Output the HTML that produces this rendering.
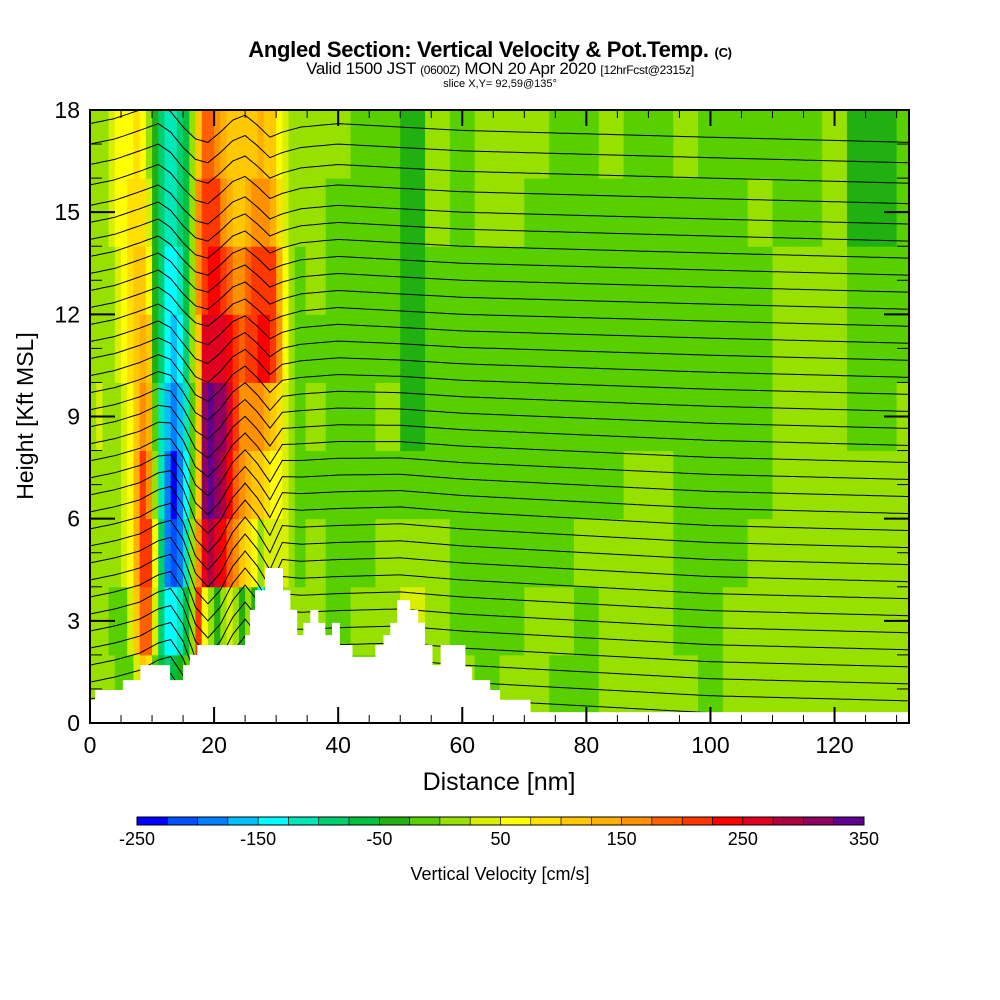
<!DOCTYPE html>
<html><head><meta charset="utf-8"><style>
body{margin:0;background:#fff;}
svg{display:block;font-family:"Liberation Sans",Arial,sans-serif;}
</style></head><body>
<svg id="chart" width="1000" height="1000" viewBox="0 0 1000 1000" xmlns="http://www.w3.org/2000/svg">
<defs>
<clipPath id="plotClip"><rect x="90" y="110" width="819" height="613"/></clipPath>
</defs>
<text x="490" y="57" text-anchor="middle" font-size="22" font-weight="bold" letter-spacing="-0.3">Angled Section: Vertical Velocity &amp; Pot.Temp. <tspan font-size="13">(C)</tspan></text>
<text x="500" y="74" text-anchor="middle" font-size="17" letter-spacing="-0.3">Valid 1500 JST <tspan font-size="12">(0600Z)</tspan> MON 20 Apr 2020 <tspan font-size="12">[12hrFcst@2315z]</tspan></text>
<text x="500" y="87" text-anchor="middle" font-size="11">slice X,Y= 92,59@135°</text>
<g id="field" clip-path="url(#plotClip)"><g id="cells"></g><g id="contours"></g><g id="terrain"></g></g>
<rect x="90" y="110" width="819" height="613" fill="none" stroke="#000" stroke-width="2"/>
<g id="ticks"></g>
<text x="499" y="790" text-anchor="middle" font-size="25">Distance [nm]</text>
<text transform="translate(33,416) rotate(-90)" text-anchor="middle" font-size="23">Height [Kft MSL]</text>
<g id="colorbar"></g>
<text x="500" y="880" text-anchor="middle" font-size="18">Vertical Velocity [cm/s]</text>
</svg>
<script>
// ---- data ----
const distNm = [0.5,1.5,2.5,3.5,4.5,5.5,6.5,7.5,8.5,9.5,10.5,11.5,12.5,13.5,14.5,15.5,16.5,17.5,18.5,19.5,20.5,21.5,22.5,23.5,24.5,25.5,26.5,27.5,28.5,29.5,30.5,31.5,32.5,33.5,36,40,44,48,52,56,60,64,68,72,76,80,84,88,92,96,100,104,108,112,116,120,124,128,132];
const heightKft = [1,3,5,7,9,11,13,15,17];
const wColumns = [
[10,10,10,10,10,10,10,10,10],
[10,10,10,10,30,10,10,10,10],
[10,10,10,10,10,10,10,20,20],
[10,-10,10,10,10,10,20,40,40],
[-10,-20,10,10,20,30,40,50,60],
[-20,-10,30,40,40,50,60,70,60],
[-10,30,60,70,70,80,80,80,70],
[40,110,140,130,120,110,100,90,80],
[120,190,210,200,170,140,110,90,60],
[90,180,200,170,140,110,60,30,10],
[-20,40,60,20,-20,-30,-40,-40,-40],
[-60,-90,-100,-120,-110,-100,-90,-100,-100],
[-80,-150,-190,-200,-170,-150,-130,-120,-110],
[-60,-150,-220,-240,-190,-160,-140,-120,-110],
[-40,-120,-180,-200,-160,-140,-120,-100,-90],
[-20,-70,-110,-130,-110,-80,-60,-60,-60],
[10,10,0,-20,-10,10,20,20,0],
[50,200,150,120,100,120,160,150,120],
[-20,60,260,300,300,250,220,200,180],
[-40,0,280,330,330,270,240,210,190],
[-30,-30,270,320,320,270,230,200,170],
[-20,0,240,290,300,260,210,170,140],
[0,40,180,240,260,230,190,140,120],
[10,20,160,190,200,200,170,120,100],
[20,-30,120,150,170,190,170,120,100],
[10,20,90,140,160,200,180,130,110],
[0,-50,60,120,150,220,200,150,120],
[0,-150,20,100,150,240,220,160,130],
[0,-80,40,90,140,240,220,160,120],
[0,-30,40,70,120,220,200,140,100],
[0,10,30,50,80,150,140,90,60],
[10,20,30,30,40,60,60,40,30],
[10,10,10,10,20,10,0,10,10],
[10,0,-10,-10,-10,-10,-10,0,10],
[-10,10,10,-10,10,-10,10,10,10],
[-10,-10,-10,-10,-10,-10,-10,-10,10],
[-10,10,-10,-10,-10,-10,-10,-10,-10],
[-10,20,10,-10,10,-10,-20,-20,-10],
[-10,40,20,-10,-30,-40,-40,-40,-30],
[10,10,10,-10,-10,-10,-10,10,10],
[10,-10,-10,-10,-10,-10,-10,-10,-10],
[-10,-10,-10,-10,-10,-10,-10,10,10],
[10,-10,-10,-10,-10,-10,-10,10,10],
[10,10,-10,-10,-10,-10,-10,-10,10],
[-10,10,-10,-10,-10,-10,-10,-10,-10],
[-10,-10,10,-10,-10,-10,-10,-10,-10],
[10,10,10,-10,-10,-10,-10,-10,10],
[10,10,10,10,-10,-10,-10,-10,-10],
[10,10,10,10,-10,-10,-10,-10,-10],
[10,-10,-10,-10,-10,-10,-10,-10,10],
[-10,-10,-10,-10,-10,-10,-10,-10,-10],
[10,10,-10,-10,-10,-10,-10,-10,-10],
[10,10,10,-10,-10,-10,-10,10,-10],
[10,10,10,10,10,10,10,-10,-10],
[10,10,10,10,10,10,10,-10,-10],
[10,10,10,10,10,10,10,10,10],
[10,10,10,10,-10,-10,-10,-30,-40],
[10,10,10,10,-10,-10,-10,-30,-40],
[10,10,10,10,10,-10,-10,-10,-10]
];
const terrainNm = [0,0.8,5.3,8.1,12.9,15.0,16.1,17.3,25.0,25.8,26.6,28.2,31.1,32.3,33.4,34.4,35.5,36.8,37.9,39.0,40.3,42.3,46.0,47.3,48.4,49.5,51.6,52.9,54.0,55.2,56.5,60.5,61.6,64.5,66.1,71.0];
const terrainKft = [0.68,0.97,1.26,1.7,1.26,1.7,2.0,2.29,2.58,3.32,3.9,4.55,3.9,3.32,2.58,2.94,3.32,2.94,2.58,2.94,2.29,1.94,2.29,2.58,2.94,3.61,3.32,2.94,2.29,1.7,2.29,1.64,1.26,0.97,0.68,0.32];
const isentropeBaseKft = [0.6,1.1,1.6,2.1,2.6,3.1,3.6,4.1,4.6,5.1,5.6,6.1,6.6,7.1,7.6,8.1,8.6,9.1,9.6,10.1,10.6,11.1,11.6,12.1,12.6,13.1,13.6,14.1,14.6,15.1,15.7,16.3,16.9,17.5];
const dispStationsNm = [0,4,8,11,13,15,17,19,21,23,25,27,29,31,34,40,50,60,80,100,132];
const dispUpperKft = [0.1,0.25,0.5,0.7,0.45,0,-0.35,-0.45,-0.15,0.2,0.35,0.05,-0.3,-0.15,0,0.1,0,-0.1,-0.2,-0.3,-0.45];
const dispLowerKft = [0.1,0.25,0.45,0.75,0.85,0.3,-0.7,-1.1,-0.7,0,0.45,0,-0.6,0.2,0.15,0.2,0.25,0.1,-0.1,-0.3,-0.45];
const xTickLabels = [0,20,40,60,80,100,120];
const yTickLabels = [0,3,6,9,12,15,18];
const cbarLabels = [-250,-150,-50,50,150,250,350];
const palette = ["#0000ff","#0050ff","#0080ff","#00c0ff","#00ffff","#00e8b8","#00d070","#00c040","#20b010","#58d000","#98e000","#d8f000","#ffff00","#ffe000","#ffc800","#ffb000","#ff9000","#ff6000","#ff3800","#ff0000","#e00020","#b00040","#900060","#600090"];
// ---- scales ----
const X0=90,X1=909,Y0=723,Y1=110;
const xs = nm => X0 + nm*(X1-X0)/132;
const ys = k => Y0 - k*(Y0-Y1)/18;
const colorOf = v => palette[Math.max(0,Math.min(23,Math.floor((v+250)/25)))];
const NS="http://www.w3.org/2000/svg";
function mk(tag, parent, attrs){const e=document.createElementNS(NS,tag);for(const k in attrs)e.setAttribute(k,attrs[k]);parent.appendChild(e);return e;}
// cells
const cells=document.getElementById('cells');
mk('rect',cells,{x:X0,y:Y1,width:X1-X0,height:Y0-Y1,fill:palette[10]});
for(let c=0;c<distNm.length;c++){
  const left = c===0?0:(distNm[c-1]+distNm[c])/2;
  const right = c===distNm.length-1?134:(distNm[c]+distNm[c+1])/2;
  for(let r=0;r<heightKft.length;r++){
    const bot = r===0?0:(heightKft[r-1]+heightKft[r])/2;
    const top = r===heightKft.length-1?18.5:(heightKft[r]+heightKft[r+1])/2;
    const rc=mk('rect',cells,{x:xs(left),y:ys(top),width:xs(right)-xs(left)+0.5,height:ys(bot)-ys(top)+0.5,fill:colorOf(wColumns[c][r])});
    
    
  }
}
// contours
function interp(arr, nm){
  for(let i=0;i<dispStationsNm.length-1;i++){
    if(nm<=dispStationsNm[i+1]){const t=(nm-dispStationsNm[i])/(dispStationsNm[i+1]-dispStationsNm[i]);return arr[i]+t*(arr[i+1]-arr[i]);}
  }
  return arr[arr.length-1];
}
const cg=document.getElementById('contours');
isentropeBaseKft.forEach(b=>{
  const w=Math.max(0,Math.min(1,(b-6)/6));
  let d='';
  for(let nm=0;nm<=132;nm+=0.5){
    const z=b+(1-w)*interp(dispLowerKft,nm)+w*interp(dispUpperKft,nm);
    d+=(nm===0?'M':'L')+xs(nm).toFixed(1)+','+ys(z).toFixed(1);
  }
  const p=mk('path',cg,{d:d,fill:'none',stroke:'#000','stroke-width':1});
  
  
});
// terrain
let td='M'+xs(0)+','+ys(-1);
for(let i=0;i<terrainNm.length;i++){
  const xe = i<terrainNm.length-1?terrainNm[i+1]:133;
  td+='L'+xs(terrainNm[i]).toFixed(1)+','+ys(terrainKft[i]).toFixed(1)+'L'+xs(xe).toFixed(1)+','+ys(terrainKft[i]).toFixed(1);
}
td+='L'+xs(133)+','+ys(-1)+'Z';
const tp=mk('path',document.getElementById('terrain'),{d:td,fill:'#fff'});


// ticks
const tg=document.getElementById('ticks');
for(let nm=0;nm<=130;nm+=5){
  const major=nm%20===0,len=major?16:8;
  mk('line',tg,{x1:xs(nm),x2:xs(nm),y1:Y0,y2:Y0-len,stroke:'#000','stroke-width':major?2:1});
  mk('line',tg,{x1:xs(nm),x2:xs(nm),y1:Y1,y2:Y1+len,stroke:'#000','stroke-width':major?2:1});
}
for(let k=0;k<=18;k++){
  const major=k%3===0,len=major?25:12;
  mk('line',tg,{x1:X0,x2:X0+len,y1:ys(k),y2:ys(k),stroke:'#000','stroke-width':major?2:1});
  mk('line',tg,{x1:X1,x2:X1-len,y1:ys(k),y2:ys(k),stroke:'#000','stroke-width':major?2:1});
}
xTickLabels.forEach(v=>{
  const t=mk('text',tg,{x:xs(v),y:753,'text-anchor':'middle','font-size':23});
  t.textContent=v;
  
  
});
yTickLabels.forEach(v=>{
  const t=mk('text',tg,{x:80,y:ys(v)+8,'text-anchor':'end','font-size':23});
  t.textContent=v;
  
  
});
// colorbar
const cb=document.getElementById('colorbar');
const CB0=137,CB1=864,segW=(CB1-CB0)/palette.length;
palette.forEach((col,i)=>{
  const r=mk('rect',cb,{x:CB0+i*segW,y:817,width:segW,height:8,fill:col,stroke:'#000','stroke-width':0.6});
  
  
});
mk('rect',cb,{x:CB0,y:817,width:CB1-CB0,height:8,fill:'none',stroke:'#000','stroke-width':1});
cbarLabels.forEach(v=>{
  const t=mk('text',cb,{x:CB0+(v+250)/25*segW,y:845,'text-anchor':'middle','font-size':18});
  t.textContent=v;
  
  
});
</script>
</body></html>
